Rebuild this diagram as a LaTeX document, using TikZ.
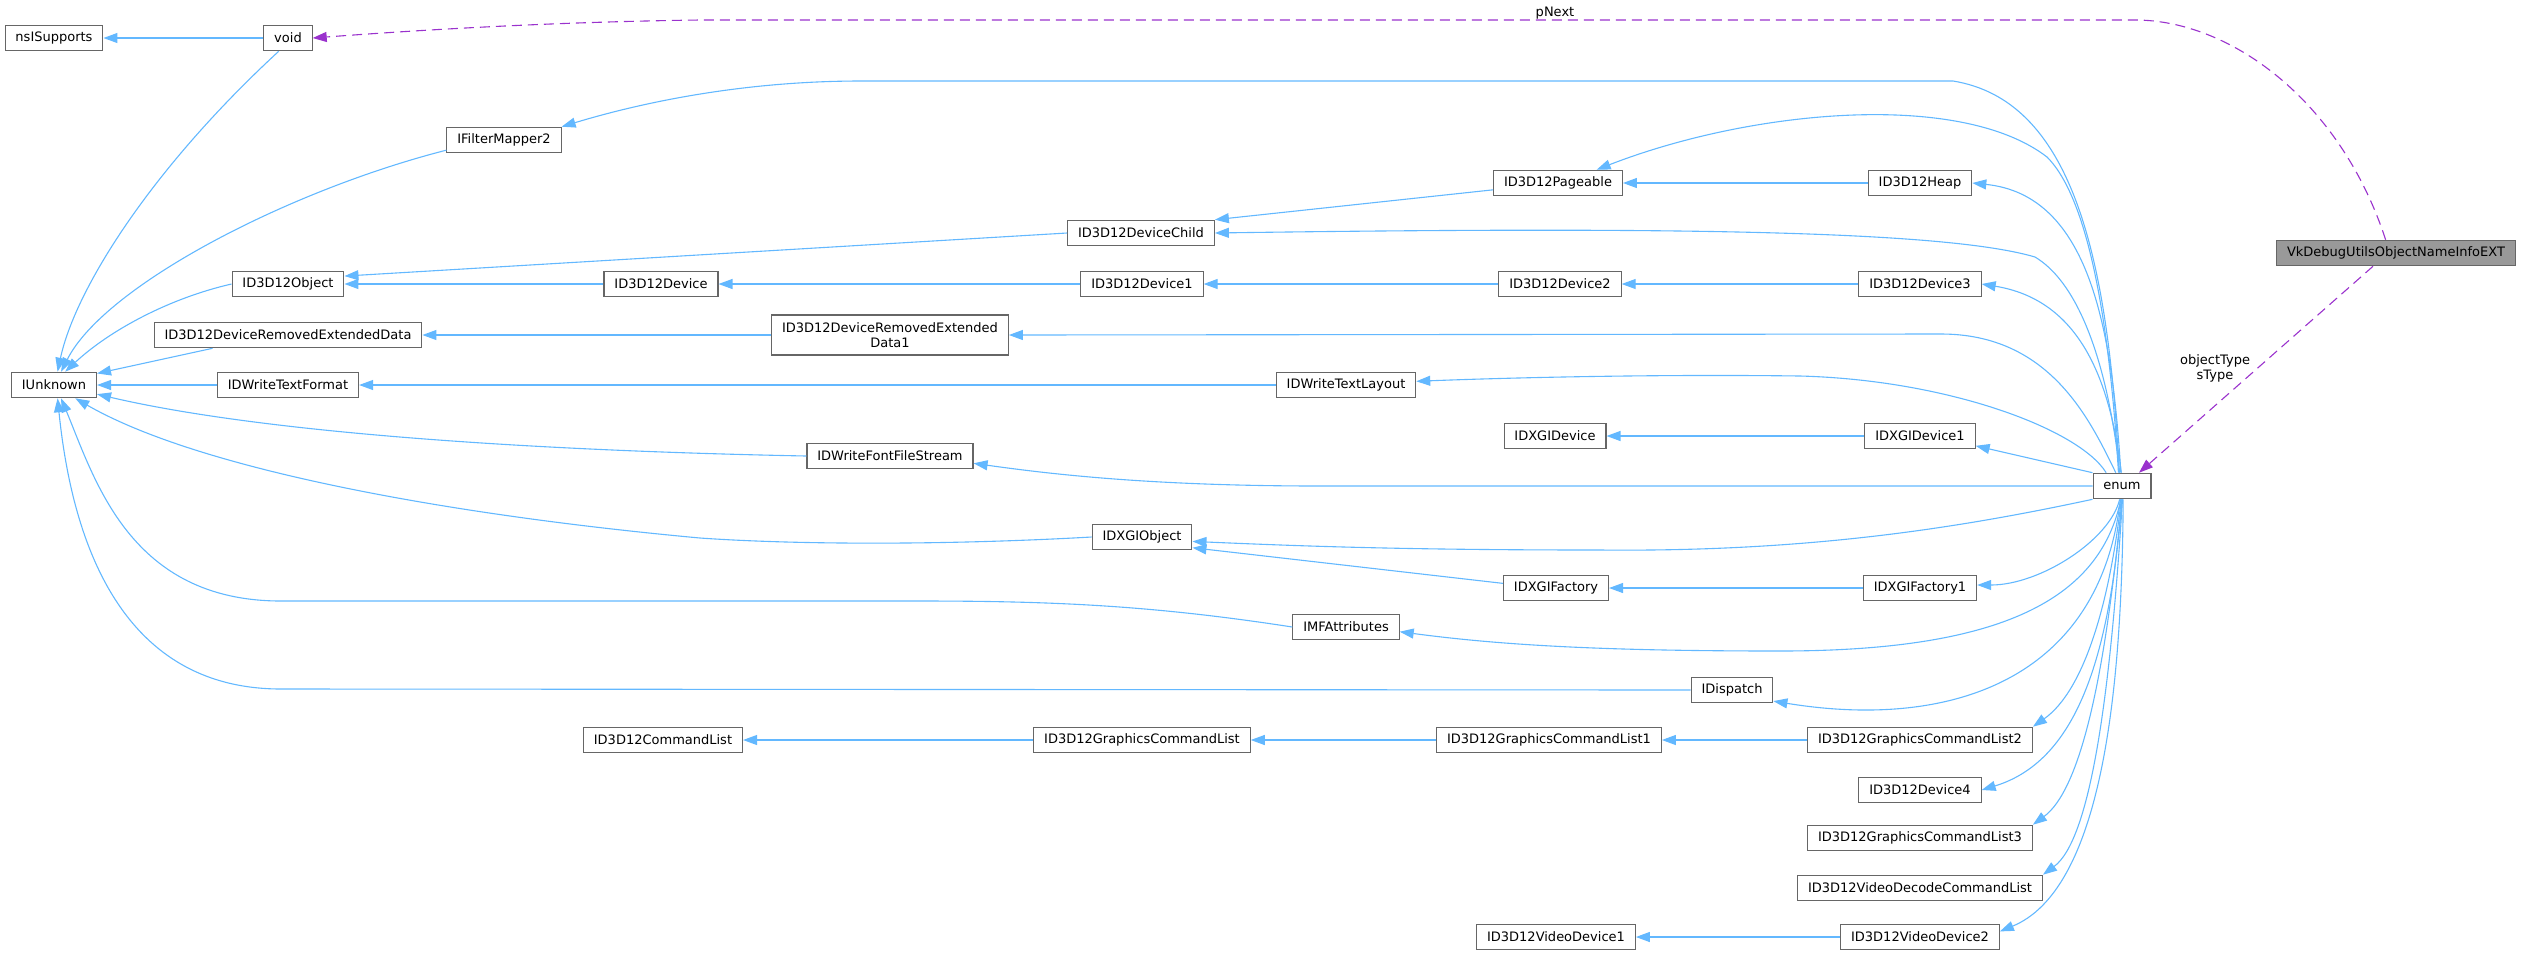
\documentclass[tikz,border=0pt]{standalone}
\usepackage{fontspec}
\setmainfont{DejaVu Sans}
\usepackage{tikz}
\usetikzlibrary{arrows.meta}
\usepackage{xcolor}
\definecolor{edgeblue}{HTML}{63B8FF}
\definecolor{edgepurple}{HTML}{9A32CD}
\definecolor{boxgray}{HTML}{666666}
\definecolor{vkfill}{HTML}{999999}

\begin{document}
\begin{tikzpicture}[x=0.5pt, y=-0.5pt,
    cls/.style={draw=boxgray, line width=0.55pt, fill=white, inner xsep=5.2pt, inner ysep=0pt,
                minimum height=12.75pt, font=\fontsize{6.5}{7.5}\selectfont, align=center},
    inh/.style={draw=edgeblue, line width=0.55pt, -{Triangle[length=7pt,width=5pt]}},
    usage/.style={draw=edgepurple, line width=0.55pt, dash pattern=on 5pt off 3pt,
                  -{Triangle[length=7pt,width=5pt]}},
    lbl/.style={font=\fontsize{6.5}{7.5}\selectfont, align=center, inner sep=0pt}]
    \useasboundingbox (0,0) rectangle (2523,955);

    % 1. Nodes, left to right
    \node[cls] (nsisupports) at (54,38) {nsISupports};
    \node[cls] (void) at (288,38) {void};
    \node[cls] (iunknown) at (54,385) {IUnknown};
    \node[cls] (filtermapper) at (504,140) {IFilterMapper2};
    \node[cls] (d3dobject) at (288,284) {ID3D12Object};
    \node[cls] (dred) at (288,335) {ID3D12DeviceRemovedExtendedData};
    \node[cls] (textformat) at (288,385) {IDWriteTextFormat};
    \node[cls] (device) at (661,284) {ID3D12Device};
    \node[cls] (cmdlist) at (663,740) {ID3D12CommandList};
    \node[cls, minimum height=20pt] (dred1) at (890,335) {ID3D12DeviceRemovedExtended\\Data1};
    \node[cls] (fontfile) at (890,456) {IDWriteFontFileStream};
    \node[cls] (devicechild) at (1141,233) {ID3D12DeviceChild};
    \node[cls] (device1) at (1142,284) {ID3D12Device1};
    \node[cls] (dxgiobject) at (1142,537) {IDXGIObject};
    \node[cls] (gcl) at (1142,740) {ID3D12GraphicsCommandList};
    \node[cls] (textlayout) at (1346,385) {IDWriteTextLayout};
    \node[cls] (imfattr) at (1346,627) {IMFAttributes};
    \node[cls] (pageable) at (1558,183) {ID3D12Pageable};
    \node[cls] (device2) at (1560,284) {ID3D12Device2};
    \node[cls] (dxgidevice) at (1555,436) {IDXGIDevice};
    \node[cls] (dxgifactory) at (1556,588) {IDXGIFactory};
    \node[cls] (gcl1) at (1549,740) {ID3D12GraphicsCommandList1};
    \node[cls] (videodevice1) at (1556,937) {ID3D12VideoDevice1};
    \node[cls] (idispatch) at (1732,690) {IDispatch};
    \node[cls] (heap) at (1920,183) {ID3D12Heap};
    \node[cls] (device3) at (1920,284) {ID3D12Device3};
    \node[cls] (dxgidevice1) at (1920,436) {IDXGIDevice1};
    \node[cls] (dxgifactory1) at (1920,588) {IDXGIFactory1};
    \node[cls] (gcl2) at (1920,740) {ID3D12GraphicsCommandList2};
    \node[cls] (device4) at (1920,790) {ID3D12Device4};
    \node[cls] (gcl3) at (1920,838) {ID3D12GraphicsCommandList3};
    \node[cls] (vdcl) at (1920,888) {ID3D12VideoDecodeCommandList};
    \node[cls] (videodevice2) at (1920,937) {ID3D12VideoDevice2};
    \node[cls] (enum) at (2122,486) {enum};
    \node[cls, fill=vkfill] (vkinfo) at (2396,253) {VkDebugUtilsObjectNameInfoEXT};

    % 2. Inheritance towards IUnknown
    \draw[inh] (void) -- (nsisupports);
    \draw[inh] (void.235) .. controls (150,170) and (75,290) .. (iunknown.75);
    \draw[inh] (filtermapper.190) .. controls (290,190) and (105,285) .. (iunknown.62);
    \draw[inh] (d3dobject.west) .. controls (170,298) and (110,330) .. (iunknown.50);
    \draw[inh] (dred.190) -- (iunknown.15);
    \draw[inh] (textformat) -- (iunknown);
    \draw[inh] (fontfile.west) .. controls (500,450) and (250,430) .. (iunknown.-12);
    \draw[inh] (dxgiobject.west) .. controls (950,545) and (800,545) .. (700,538)
                                 .. controls (450,515) and (200,470) .. (iunknown.-32);
    \draw[inh] (imfattr.west) .. controls (1150,605) and (1050,601) .. (918,601) -- (281,601)
                              .. controls (130,601) and (95,480) .. (iunknown.-62);
    \draw[inh] (idispatch.west) -- (281,689) .. controls (110,689) and (70,520) .. (iunknown.-75);

    % 3. Chains in the middle
    \draw[inh] (devicechild.west) -- (d3dobject.8);
    \draw[inh] (device) -- (d3dobject);
    \draw[inh] (device1) -- (device);
    \draw[inh] (device2) -- (device1);
    \draw[inh] (device3) -- (device2);
    \draw[inh] (pageable.186) -- (devicechild.north east);
    \draw[inh] (heap) -- (pageable);
    \draw[inh] (dred1) -- (dred);
    \draw[inh] (textlayout) -- (textformat);
    \draw[inh] (dxgidevice1) -- (dxgidevice);
    \draw[inh] (dxgifactory.175) -- (dxgiobject.-12);
    \draw[inh] (dxgifactory1) -- (dxgifactory);
    \draw[inh] (gcl) -- (cmdlist);
    \draw[inh] (gcl1) -- (gcl);
    \draw[inh] (gcl2) -- (gcl1);
    \draw[inh] (videodevice2) -- (videodevice1);

    % 4. Everything that enum fans out to
    \draw[inh] (enum.102) .. controls (2108,250) and (2070,100) .. (1953,81) -- (861,81)
                          .. controls (750,81) and (650,100) .. (filtermapper.north east);
    \draw[inh] (enum.105) .. controls (2110,330) and (2090,200) .. (2047,157)
                          .. controls (1960,90) and (1750,110) .. (pageable.19);
    \draw[inh] (enum.95) .. controls (2112,330) and (2090,195) .. (heap.east);
    \draw[inh] (enum.100) .. controls (2112,400) and (2090,290) .. (2035,257)
                          .. controls (1950,232) and (1700,226) .. (devicechild.east);
    \draw[inh] (enum.93) .. controls (2110,380) and (2080,300) .. (device3.east);
    \draw[inh] (enum.115) .. controls (2090,420) and (2050,334) .. (1941,334) -- (dred1.east);
    \draw[inh] (enum.140) .. controls (2080,430) and (1950,380) .. (1800,376)
                          .. controls (1650,374) and (1500,378) .. (textlayout.3);
    \draw[inh] (enum.north west) -- (dxgidevice1.-10);
    \draw[inh] (enum.west) -- (1320,486) .. controls (1150,486) and (1050,474) .. (fontfile.-5);
    \draw[inh] (enum.south west) .. controls (1950,530) and (1800,552) .. (1600,550)
                                 .. controls (1400,550) and (1300,546) .. (dxgiobject.-5);
    \draw[inh] (enum.-100) .. controls (2110,540) and (2040,585) .. (dxgifactory1.3);
    \draw[inh] (enum.-95) .. controls (2100,600) and (2000,651) .. (1780,651)
                          .. controls (1600,651) and (1500,645) .. (imfattr.-5);
    \draw[inh] (enum.-97) .. controls (2100,680) and (1950,730) .. (idispatch.-15);
    \draw[inh] (enum.-93) .. controls (2110,600) and (2085,690) .. (gcl2.north east);
    \draw[inh] (enum.-90) .. controls (2110,650) and (2080,760) .. (device4.east);
    \draw[inh] (enum.-90) .. controls (2105,680) and (2080,790) .. (gcl3.north east);
    \draw[inh] (enum.-88) .. controls (2110,700) and (2090,840) .. (vdcl.north east);
    \draw[inh] (enum.-85) .. controls (2122,700) and (2100,890) .. (videodevice2.4);

    % 5. Member usage (dashed)
    \draw[usage] (vkinfo.210) -- (enum.38);
    \node[lbl] (typelbl) at (2215,368) {objectType\\sType};
    \draw[usage] (vkinfo.128) .. controls (2340,100) and (2230,20) .. (2135,20) -- (700,20)
                              .. controls (550,22) and (420,30) .. (void.east);
    \node[lbl] (nextlbl) at (1555,13) {pNext};
\end{tikzpicture}
\end{document}
